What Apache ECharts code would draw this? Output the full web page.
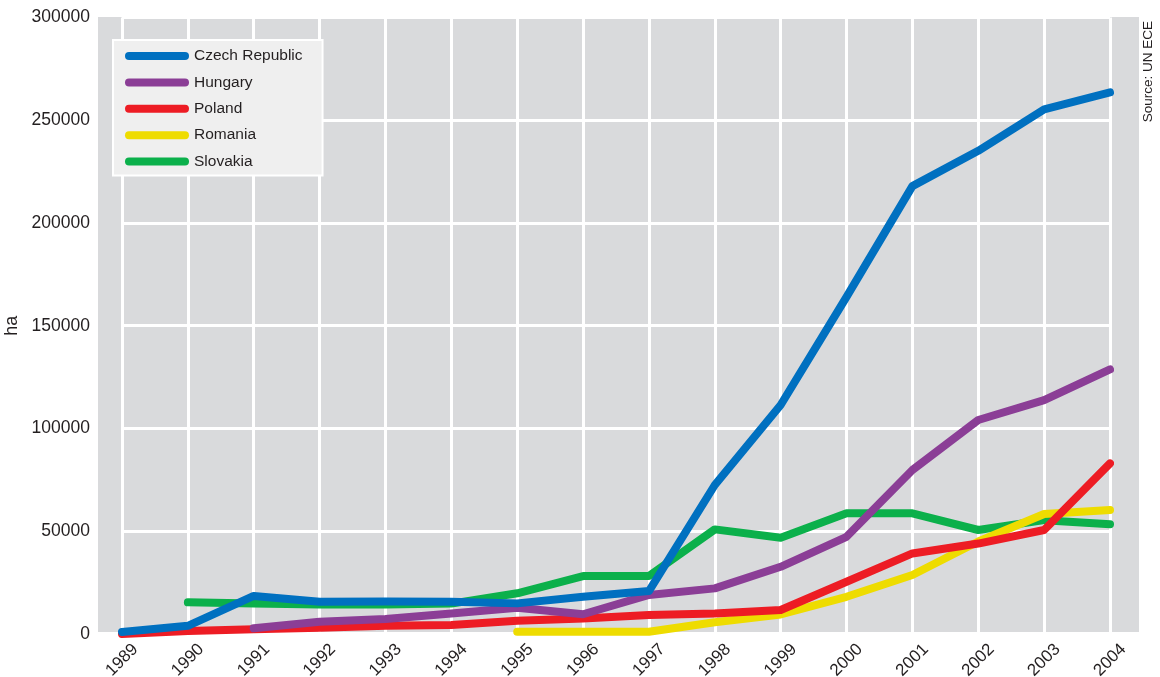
<!DOCTYPE html>
<html>
<head>
<meta charset="utf-8">
<script src="https://cdn.jsdelivr.net/npm/echarts@6/dist/echarts.min.js"></script>
<style>
html,body{margin:0;padding:0;background:#fff;}
#chart{width:1160px;height:677px;}
</style>
</head>
<body>
<div id="chart"></div>
<script>
const years = ['1989','1990','1991','1992','1993','1994','1995','1996','1997','1998','1999','2000','2001','2002','2003','2004'];
const czech    = [1000, 4000, 18500, 15700, 15800, 15700, 14900, 18100, 20900, 72500, 111400, 164000, 217900, 235100, 255200, 263500];
const hungary  = [null, null, 2800, 6000, 7300, 10000, 12800, 9600, 19000, 22200, 32700, 47300, 79800, 104100, 113800, 128700];
const poland   = [0, 1500, 2300, 3100, 4000, 4400, 6500, 7600, 9200, 10000, 11700, 25400, 39200, 44000, 50600, 83000];
const romania  = [null, null, null, null, null, null, 1100, 1100, 1100, 5700, 9500, 18100, 28700, 45000, 58400, 60300];
const slovakia = [null, 15400, 14900, 14400, 14400, 14800, 19800, 28200, 28200, 50900, 46800, 58700, 58700, 50600, 55400, 53400];
const seriesNames = ['Czech Republic','Hungary','Poland','Romania','Slovakia'];
const yAxisTitle = 'ha';
const sourceText = 'Source: UN ECE';

const FONT = '"Liberation Sans Narrow", "Arial Narrow", "Liberation Sans", Arial, sans-serif';
const TXT = '#231f20';
const colors = {
  'Czech Republic': '#0070c0',
  'Hungary': '#8b3e96',
  'Poland': '#ed1c24',
  'Romania': '#eedc00',
  'Slovakia': '#0bb04b'
};
const dataMap = {
  'Czech Republic': czech, 'Hungary': hungary, 'Poland': poland, 'Romania': romania, 'Slovakia': slovakia
};
// drawing order: last on top
const drawOrder = ['Slovakia','Romania','Poland','Hungary','Czech Republic'];

const chart = echarts.init(document.getElementById('chart'), null, {renderer:'canvas'});
const legendIcon = 'path://M4,0 L60,0 A4,4 0 0 1 60,8 L4,8 A4,4 0 0 1 4,0 Z';

const option = {
  animation: false,
  backgroundColor: '#ffffff',
  textStyle: { fontFamily: FONT },
  graphic: [
    { type: 'rect', z: 0, silent: true,
      shape: { x: 98, y: 17, width: 1041, height: 615 },
      style: { fill: '#d9dadc' } },
    { type: 'text', z: 10, silent: true,
      x: 1148, y: 21, rotation: Math.PI / 2,
      style: { text: sourceText, fill: TXT, font: '13.5px ' + FONT, align: 'right', verticalAlign: 'middle' } }
  ],
  grid: { left: 122, right: 50, top: 17.4, bottom: 43, containLabel: false, outerBoundsMode: 'none' },
  legend: {
    orient: 'vertical',
    left: 113, top: 40,
    data: seriesNames,
    backgroundColor: '#efefef',
    borderColor: '#ffffff',
    borderWidth: 2,
    padding: [6, 20, 4, 12],
    itemWidth: 64, itemHeight: 8,
    itemGap: 6.4,
    itemTextGap: 10,
    icon: legendIcon,
    textStyle: { fontFamily: FONT, fontSize: 15.5, color: TXT, lineHeight: 20 }
  },
  xAxis: {
    type: 'category',
    data: years,
    boundaryGap: false,
    z: 3,
    axisLine: { show: false },
    axisTick: { show: false },
    axisLabel: { rotate: 45, margin: 26, align: 'center', verticalAlign: 'middle',
      fontSize: 17, color: TXT, fontFamily: FONT, interval: 0 },
    splitLine: { show: true, interval: 0, lineStyle: { color: '#ffffff', width: 3 } }
  },
  yAxis: {
    type: 'value',
    min: 0, max: 300000, interval: 50000,
    z: 3,
    name: yAxisTitle,
    nameLocation: 'middle',
    nameRotate: 90,
    nameGap: 98,
    nameTextStyle: { fontSize: 18, color: TXT, fontFamily: FONT },
    axisLine: { show: false },
    axisTick: { show: false },
    axisLabel: { margin: 32, fontSize: 17.5, color: TXT, fontFamily: FONT,
      formatter: function (v) { return String(v); } },
    splitLine: { show: true, lineStyle: { color: '#ffffff', width: 3 } }
  },
  series: drawOrder.map(function (name) {
    return {
      name: name,
      type: 'line',
      data: dataMap[name],
      z: 5,
      showSymbol: false,
      symbol: 'none',
      connectNulls: false,
      color: colors[name],
      lineStyle: { width: 8, color: colors[name], cap: 'round', join: 'round' }
    };
  })
};
chart.setOption(option);
</script>
</body>
</html>
